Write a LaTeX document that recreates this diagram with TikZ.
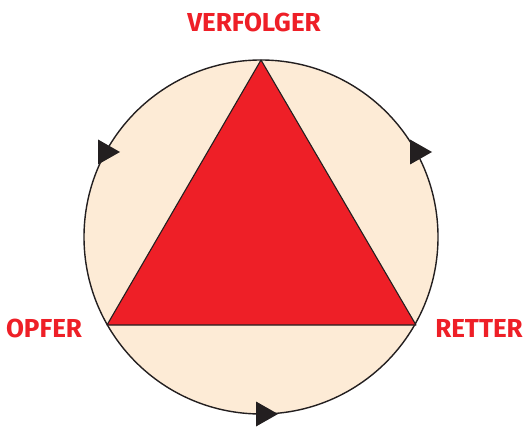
\documentclass[tikz,border=0pt]{standalone}
\usepackage{fontspec}
\setmainfont{Fira Sans}
\usepackage{tikz}
\usetikzlibrary{positioning}
\definecolor{dtred}{HTML}{EE1F27}
\definecolor{dtcream}{HTML}{FDEBD6}
\definecolor{dtink}{HTML}{231F20}
\tikzset{
  rolle/.style={text=dtred, font=\fontsize{26}{26}\selectfont\bfseries, inner sep=0pt},
  pfeil/.style={fill=dtink}
}

\begin{document}
\begin{tikzpicture}[x=1pt, y=-1pt]
  \useasboundingbox (0,0) rectangle (524,427);
  \filldraw[fill=dtcream, draw=dtink, line width=1.4pt] (261,237) circle (177);
  \coordinate (v) at (261,60);
  \coordinate (o) at (107,325);
  \coordinate (r) at (416,325);
  \filldraw[fill=dtred, draw=dtink, line width=1.1pt, line join=round] (v) -- (r) -- (o) -- cycle;
  % arrow heads along the circle
  \foreach \x/\y in {98/152, 410/152, 256/414}
    \fill[pfeil] (\x,\y-12.5) -- (\x+22,\y) -- (\x,\y+12.5) -- cycle;
  % role labels
  \node[rolle] (verfolger) at (254,22) {VERFOLGER};
  \node[rolle] (opfer) at (44,328) {OPFER};
  \node[rolle] (retter) at (479,328) {RETTER};
\end{tikzpicture}
\end{document}
